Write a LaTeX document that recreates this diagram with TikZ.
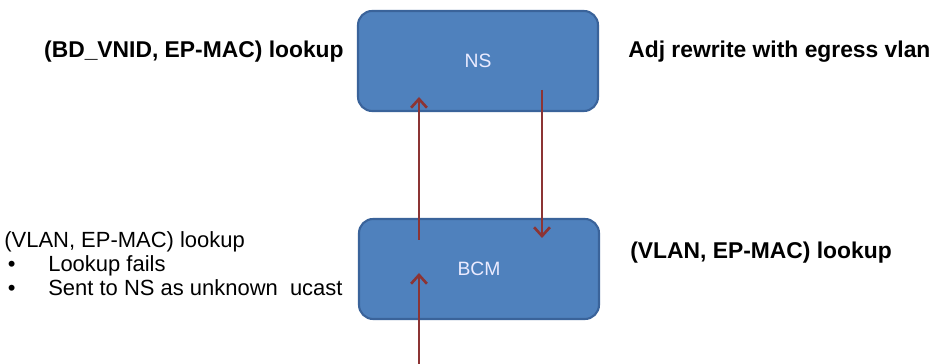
\documentclass[tikz,border=0pt]{standalone}
\usepackage{fontspec}
\setmainfont{Liberation Sans}
\usetikzlibrary{arrows.meta}

\begin{document}
\begin{tikzpicture}[x=0.02cm,y=-0.02cm]

\tikzset{unit/.style = {rectangle, rounded corners=8pt, fill=boxblue, draw=boxedge, line width=1.2pt,
  minimum width=4.8cm, minimum height=2cm, text=white!92!blue, font=\fontsize{11}{13}\selectfont}}
\tikzset{flow/.style = {-{Straight Barb[length=5pt,width=9pt]}, line width=1.5pt, draw=flowred}}
\tikzset{note/.style = {font=\fontsize{13}{15}\selectfont\bfseries, inner sep=0pt}}
\tikzset{plain/.style = {align=left, inner sep=0pt, font=\fontsize{12.5}{13.8}\selectfont}}
\definecolor{boxblue}{HTML}{4F81BD}
\definecolor{boxedge}{HTML}{3A639A}
\definecolor{flowred}{HTML}{8C3434}

\useasboundingbox (0,0) rectangle (934,364);
%\draw[help lines] (0,0) grid[step=50] (934,364);
\node[unit] (ns) at (478,61) {NS};
\node[unit] (bcm) at (479,269) {BCM};

\node[note, anchor=east] (nslook) at (344,52) {(BD\_VNID, EP-MAC) lookup};
\node[note, anchor=west] (adj) at (628,52) {Adj rewrite with egress vlan};
\node[note, anchor=west] (bcmlook) at (630,253) {(VLAN, EP-MAC) lookup};
\node[plain, anchor=north west] (fail) at (4,231) {(VLAN, EP-MAC) lookup\\
  \makebox[0.88cm][l]{\hspace{2pt}\textbullet}Lookup fails\\
  \makebox[0.88cm][l]{\hspace{2pt}\textbullet}Sent to NS as unknown\ \ ucast};

\coordinate (src) at (419,364);
\coordinate (bcmin) at (419,273);
\coordinate (bcmup) at (419,240);
\coordinate (nsin) at (419,97);
\coordinate (nsdown) at (542,90);
\coordinate (bcmdown) at (542,238);

\draw[flow] (src) to (bcmin);
\draw[flow] (bcmup) to (nsin);
\draw[flow] (nsdown) to (bcmdown);
\end{tikzpicture}
\end{document}
